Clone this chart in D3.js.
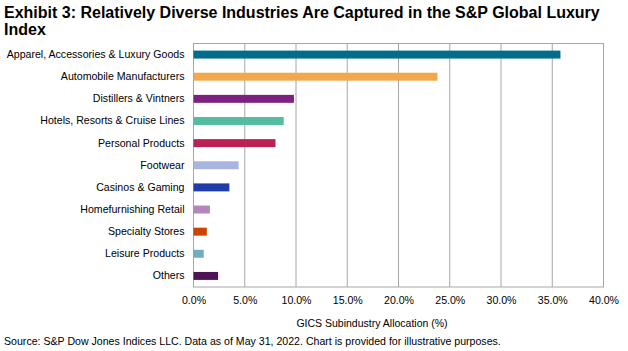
<!DOCTYPE html>
<html>
<head>
<meta charset="utf-8">
<script src="https://cdn.jsdelivr.net/npm/d3@7"></script>
<style>
  body { margin: 0; background: #fff; }
  svg text { font-family: "Liberation Sans", Arial, sans-serif; fill: #000; }
</style>
</head>
<body>
<svg id="chart"></svg>
<script>
// Data
const categories = [
  "Apparel, Accessories & Luxury Goods",
  "Automobile Manufacturers",
  "Distillers & Vintners",
  "Hotels, Resorts & Cruise Lines",
  "Personal Products",
  "Footwear",
  "Casinos & Gaming",
  "Homefurnishing Retail",
  "Specialty Stores",
  "Leisure Products",
  "Others"
];
const values = [35.8, 23.8, 9.8, 8.8, 8.0, 4.4, 3.5, 1.6, 1.3, 1.0, 2.4];
const barColors = ["#006E8A", "#F4A84D", "#7B2180", "#54BCA0", "#BA2154", "#A9B5E0",
                   "#1F3DA8", "#B586BC", "#CC4400", "#6FAFC0", "#4F1456"];
const xTicks = [0, 5, 10, 15, 20, 25, 30, 35, 40];

width = 628;
height = 351;
margin = { top: 43.5, right: 24.5, bottom: 64, left: 193.5 };

svg = d3.select("#chart")
  .attr("width", width)
  .attr("height", height);

// title
const title = svg.append("text")
  .style("font-size", "16px")
  .style("font-weight", "bold");
title.append("tspan").attr("x", 4).attr("y", 18)
  .text("Exhibit 3: Relatively Diverse Industries Are Captured in the S&P Global Luxury");
title.append("tspan").attr("x", 4).attr("y", 35).text("Index");

const xScale = d3.scaleLinear()
  .domain([0, 40])
  .range([margin.left, width - margin.right]);

const yScale = d3.scaleBand()
  .domain(categories)
  .range([margin.top, height - margin.bottom])
  .paddingInner(0.64)
  .paddingOuter(0.32);

// gridlines
svg.append("g")
  .selectAll("line")
  .data(xTicks)
  .enter()
  .append("line")
  .attr("x1", d => xScale(d))
  .attr("x2", d => xScale(d))
  .attr("y1", margin.top)
  .attr("y2", height - margin.bottom)
  .attr("stroke", "#A6A6A6")
  .attr("stroke-width", 1);

// plot frame
svg.append("rect")
  .attr("x", margin.left)
  .attr("y", margin.top)
  .attr("width", xScale(40) - margin.left)
  .attr("height", height - margin.bottom - margin.top)
  .attr("fill", "none")
  .attr("stroke", "#A6A6A6")
  .attr("stroke-width", 1);

// bars
svg.append("g")
  .selectAll("rect")
  .data(categories)
  .enter()
  .append("rect")
  .attr("x", xScale(0))
  .attr("y", d => yScale(d))
  .attr("width", (d, i) => xScale(values[i]) - xScale(0))
  .attr("height", yScale.bandwidth())
  .attr("fill", (d, i) => barColors[i]);

// y axis labels
const yAxis = d3.axisLeft(yScale).tickSize(0).tickPadding(9);
const yG = svg.append("g")
  .attr("transform", `translate(${margin.left}, 0)`)
  .call(yAxis);
yG.select(".domain").remove();
yG.selectAll("text")
  .style("font-family", "'Liberation Sans', Arial, sans-serif")
  .style("font-size", "10.6px");

// x axis labels
const xAxis = d3.axisBottom(xScale)
  .tickValues(xTicks)
  .tickSize(0)
  .tickPadding(9)
  .tickFormat(d => d3.format(".1f")(d) + "%");
const xG = svg.append("g")
  .attr("transform", `translate(0, ${height - margin.bottom})`)
  .call(xAxis);
xG.select(".domain").remove();
xG.selectAll("text")
  .style("font-family", "'Liberation Sans', Arial, sans-serif")
  .style("font-size", "10.6px");

// axis title
svg.append("text")
  .attr("x", 372)
  .attr("y", 327)
  .attr("text-anchor", "middle")
  .style("font-size", "10.5px")
  .text("GICS Subindustry Allocation (%)");

// source
svg.append("text")
  .attr("x", 4)
  .attr("y", 345)
  .style("font-size", "10.6px")
  .text("Source: S&P Dow Jones Indices LLC. Data as of May 31, 2022. Chart is provided for illustrative purposes.");
</script>
</body>
</html>
